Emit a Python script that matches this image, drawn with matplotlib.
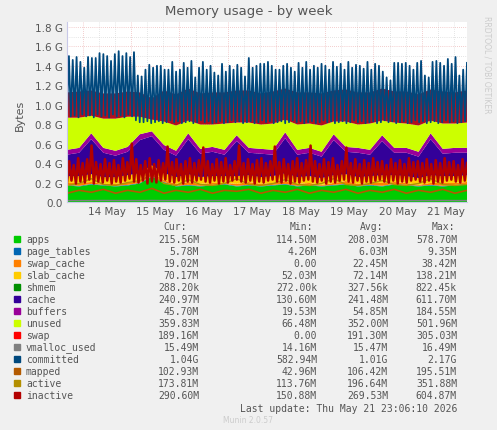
import numpy as np
import matplotlib
matplotlib.use('Agg')
import matplotlib.pyplot as plt

# time in days since 14 May 00:00
t_start, t_end = -0.32, 7.93

# stacked areas (GB), one sample every ~6h
apps = [0.17, 0.16, 0.18, 0.17, 0.16, 0.17, 0.19, 0.26, 0.20, 0.16, 0.17, 0.16, 0.17, 0.18, 0.16, 0.17, 0.16,
        0.17, 0.18, 0.16, 0.17, 0.16, 0.17, 0.18, 0.16, 0.17, 0.16, 0.18, 0.17, 0.16, 0.17, 0.16, 0.17, 0.18]
page_tables = [0.006, 0.006, 0.006, 0.006, 0.006, 0.006, 0.006, 0.006, 0.006, 0.006, 0.006, 0.006, 0.006, 0.006,
               0.006, 0.006, 0.006, 0.006, 0.006, 0.006, 0.006, 0.006, 0.006, 0.006, 0.006, 0.006, 0.006, 0.006,
               0.006, 0.006, 0.006, 0.006, 0.006, 0.006]
swap_cache = [0.02, 0.03, 0.02, 0.01, 0.02, 0.03, 0.02, 0.04, 0.02, 0.02, 0.03, 0.02, 0.02, 0.01, 0.02, 0.03, 0.02,
              0.02, 0.03, 0.02, 0.02, 0.01, 0.02, 0.03, 0.02, 0.02, 0.03, 0.02, 0.02, 0.01, 0.02, 0.03, 0.02, 0.02]
slab_cache = [0.07, 0.07, 0.08, 0.07, 0.07, 0.07, 0.08, 0.07, 0.07, 0.07, 0.08, 0.07, 0.07, 0.07, 0.08, 0.07, 0.07,
              0.07, 0.08, 0.07, 0.07, 0.07, 0.08, 0.07, 0.07, 0.07, 0.08, 0.07, 0.07, 0.07, 0.08, 0.07, 0.07, 0.07]
shmem = [0.0003, 0.0003, 0.0003, 0.0003, 0.0003, 0.0003, 0.0003, 0.0003, 0.0003, 0.0003, 0.0003, 0.0003,
         0.0003, 0.0003, 0.0003, 0.0003, 0.0003, 0.0003, 0.0003, 0.0003, 0.0003, 0.0003, 0.0003, 0.0003,
         0.0003, 0.0003, 0.0003, 0.0003, 0.0003, 0.0003, 0.0003, 0.0003, 0.0003, 0.0003]
cache = [0.22, 0.24, 0.36, 0.25, 0.22, 0.24, 0.34, 0.30, 0.24, 0.22, 0.36, 0.24, 0.25, 0.22, 0.36, 0.23, 0.24,
         0.22, 0.36, 0.23, 0.24, 0.22, 0.36, 0.23, 0.25, 0.22, 0.35, 0.23, 0.24, 0.22, 0.37, 0.23, 0.24, 0.23]
buffers = [0.05, 0.05, 0.06, 0.05, 0.05, 0.05, 0.06, 0.05, 0.05, 0.05, 0.06, 0.05, 0.05, 0.05, 0.06, 0.05, 0.05,
           0.05, 0.06, 0.05, 0.05, 0.05, 0.06, 0.05, 0.05, 0.05, 0.06, 0.05, 0.05, 0.05, 0.06, 0.05, 0.05, 0.05]
unused = [0.33, 0.31, 0.18, 0.30, 0.33, 0.31, 0.18, 0.12, 0.24, 0.26, 0.13, 0.25, 0.23, 0.27, 0.13, 0.26, 0.25,
          0.27, 0.13, 0.26, 0.25, 0.27, 0.13, 0.26, 0.24, 0.27, 0.15, 0.26, 0.25, 0.27, 0.13, 0.26, 0.25, 0.26]
swap = [0.26, 0.27, 0.26, 0.26, 0.26, 0.26, 0.25, 0.22, 0.32, 0.32, 0.33, 0.32, 0.33, 0.32, 0.33, 0.33, 0.32,
        0.33, 0.32, 0.33, 0.32, 0.33, 0.32, 0.33, 0.33, 0.32, 0.33, 0.32, 0.33, 0.32, 0.32, 0.33, 0.32, 0.33]

# line series, ~6h samples
vmalloc_used = [0.015, 0.015, 0.015, 0.016, 0.015, 0.015, 0.015, 0.016, 0.015, 0.015, 0.015, 0.016, 0.015,
                0.015, 0.015, 0.016, 0.015, 0.015, 0.015, 0.016, 0.015, 0.015, 0.015, 0.016, 0.015, 0.015,
                0.015, 0.016, 0.015, 0.015, 0.015, 0.016, 0.015, 0.015]
mapped = [0.09, 0.12, 0.10, 0.13, 0.09, 0.12, 0.10, 0.14, 0.09, 0.12, 0.10, 0.13, 0.09, 0.12, 0.11, 0.13, 0.09,
          0.12, 0.10, 0.13, 0.09, 0.12, 0.10, 0.13, 0.09, 0.12, 0.10, 0.13, 0.09, 0.12, 0.10, 0.13, 0.09, 0.12]
active = [0.17, 0.19, 0.24, 0.18, 0.17, 0.20, 0.22, 0.28, 0.19, 0.17, 0.23, 0.18, 0.17, 0.19, 0.24, 0.18, 0.17,
          0.19, 0.23, 0.18, 0.17, 0.19, 0.24, 0.18, 0.17, 0.19, 0.22, 0.18, 0.17, 0.19, 0.24, 0.18, 0.17, 0.18]

# zig-zag lines: peak / trough per cycle
committed_hi = [1.50, 1.46, 1.49, 1.44, 1.38, 1.49, 1.48, 1.48, 1.53, 1.52, 1.50, 1.45, 1.52, 1.55, 1.50, 1.53,
                1.49, 1.54, 1.30, 1.29, 1.36, 1.41, 1.38, 1.40, 1.40, 1.36, 1.36, 1.44, 1.34, 1.36, 1.43, 1.38,
                1.45, 1.28, 1.38, 1.44, 1.36, 1.40, 1.33, 1.30, 1.42, 1.34, 1.40, 1.36, 1.41, 1.38, 1.29, 1.48,
                1.38, 1.40, 1.42, 1.42, 1.44, 1.40, 1.36, 1.36, 1.40, 1.42, 1.38, 1.34, 1.43, 1.38, 1.44, 1.36,
                1.40, 1.38, 1.42, 1.40, 1.36, 1.44, 1.39, 1.42, 1.36, 1.44, 1.38, 1.41, 1.40, 1.37, 1.44, 1.36,
                1.42, 1.40, 1.34, 1.28, 1.25, 1.43, 1.43, 1.42, 1.43, 1.40, 1.36, 1.43, 1.45, 1.30, 1.28, 1.44,
                1.45, 1.43, 1.40, 1.47, 1.42, 1.49, 1.30, 1.36, 1.43]
committed_lo = [0.90, 0.88, 0.89, 0.87, 0.90, 0.88, 0.89, 0.87, 0.90, 0.88, 0.89, 0.87, 0.90, 0.88, 0.89, 0.87,
                0.90, 0.88, 0.84, 0.82, 0.82, 0.83, 0.81, 0.82, 0.83, 0.81, 0.82, 0.84, 0.82, 0.83, 0.81, 0.82,
                0.83, 0.81, 0.82, 0.84, 0.82, 0.83, 0.81, 0.82, 0.83, 0.81, 0.82, 0.84, 0.82, 0.83, 0.81, 0.82,
                0.83, 0.81, 0.82, 0.84, 0.82, 0.83, 0.81, 0.82, 0.83, 0.81, 0.82, 0.84, 0.82, 0.83, 0.81, 0.82,
                0.83, 0.81, 0.82, 0.84, 0.82, 0.83, 0.81, 0.82, 0.83, 0.81, 0.82, 0.84, 0.82, 0.83, 0.81, 0.82,
                0.83, 0.81, 0.82, 0.84, 0.82, 0.83, 0.81, 0.82, 0.83, 0.81, 0.82, 0.84, 0.82, 0.83, 0.81, 0.82,
                0.83, 0.81, 0.82, 0.84, 0.82, 0.83, 0.81, 0.82, 0.83]
inactive_hi = [0.42, 0.38, 0.45, 0.40, 0.44, 0.58, 0.41, 0.39, 0.44, 0.40, 0.43, 0.38, 0.45, 0.41, 0.60, 0.44,
               0.38, 0.42, 0.45, 0.39, 0.43, 0.40, 0.57, 0.41, 0.44, 0.39, 0.42, 0.45, 0.40, 0.43, 0.56, 0.42,
               0.39, 0.44, 0.41, 0.45, 0.38, 0.42, 0.58, 0.40, 0.44, 0.39, 0.43, 0.45, 0.40, 0.42, 0.57, 0.41,
               0.44, 0.39, 0.42, 0.45, 0.40, 0.43, 0.58, 0.42, 0.39, 0.44, 0.41, 0.45, 0.38, 0.42, 0.56, 0.40,
               0.44, 0.39, 0.43, 0.40, 0.45, 0.41, 0.42, 0.38, 0.44, 0.40, 0.43, 0.39, 0.45, 0.41, 0.42, 0.40,
               0.44, 0.39, 0.43, 0.40, 0.45, 0.41, 0.42, 0.38, 0.44, 0.40]
inactive_lo = [0.20, 0.22, 0.19, 0.21, 0.20, 0.23, 0.19, 0.21, 0.20, 0.22, 0.19, 0.21, 0.20, 0.22, 0.24, 0.21,
               0.20, 0.22, 0.19, 0.21, 0.20, 0.22, 0.23, 0.21, 0.20, 0.22, 0.19, 0.21, 0.20, 0.22, 0.23, 0.21,
               0.20, 0.22, 0.19, 0.21, 0.20, 0.22, 0.23, 0.21, 0.20, 0.22, 0.19, 0.21, 0.20, 0.22, 0.23, 0.21,
               0.20, 0.22, 0.19, 0.21, 0.20, 0.22, 0.23, 0.21, 0.20, 0.22, 0.19, 0.21, 0.20, 0.22, 0.23, 0.21,
               0.20, 0.22, 0.19, 0.21, 0.20, 0.22, 0.23, 0.21, 0.20, 0.22, 0.19, 0.21, 0.20, 0.22, 0.23, 0.21,
               0.20, 0.22, 0.19, 0.21, 0.20, 0.22, 0.23, 0.21, 0.20, 0.22]

names = ['apps', 'page_tables', 'swap_cache', 'slab_cache', 'shmem', 'cache', 'buffers', 'unused', 'swap',
         'vmalloc_used', 'committed', 'mapped', 'active', 'inactive']
colors = ['#00CC00', '#0066B3', '#FF8000', '#FFCC00', '#008F00', '#330099', '#990099', '#CCFF00', '#FF0000',
          '#808080', '#00487D', '#B35A00', '#B38F00', '#B30000']
cur = ['215.56M', '5.78M', '19.02M', '70.17M', '288.20k', '240.97M', '45.70M', '359.83M', '189.16M',
       '15.49M', '1.04G', '102.93M', '173.81M', '290.60M']
mins = ['114.50M', '4.26M', '0.00', '52.03M', '272.00k', '130.60M', '19.53M', '66.48M', '0.00',
        '14.16M', '582.94M', '42.96M', '113.76M', '150.88M']
avgs = ['208.03M', '6.03M', '22.45M', '72.14M', '327.56k', '241.48M', '54.85M', '352.00M', '191.30M',
        '15.47M', '1.01G', '106.42M', '196.64M', '269.53M']
maxs = ['578.70M', '9.35M', '38.42M', '138.21M', '822.45k', '611.70M', '184.55M', '501.96M', '305.03M',
        '16.49M', '2.17G', '195.51M', '351.88M', '604.87M']

W, H = 497, 431
fig = plt.figure(figsize=(W / 100, H / 100), dpi=100, facecolor='#F0F0F0')
ax = fig.add_axes([67 / W, 1 - 203 / H, 400 / W, 180 / H], facecolor='white')

ta = np.linspace(t_start, t_end, len(apps))
stack = [apps, page_tables, swap_cache, slab_cache, shmem, cache, buffers, unused, swap]
ax.stackplot(ta, *stack, colors=colors[:8] + ['#B01020'], linewidth=0)

tl = np.linspace(t_start, t_end, len(vmalloc_used))
ax.plot(tl, vmalloc_used, color=colors[9], lw=1)
tc = np.linspace(t_start, t_end, 2 * len(committed_hi))
comm = np.ravel(np.column_stack([committed_lo, committed_hi]))
ax.plot(tc, comm, color=colors[10], lw=1.3)
ax.plot(tl, mapped, color=colors[11], lw=1.2)
ax.plot(tl, active, color=colors[12], lw=1)
ti = np.linspace(t_start, t_end, 2 * len(inactive_hi))
inac = np.ravel(np.column_stack([inactive_lo, inactive_hi]))
ax.plot(ti, inac, color=colors[13], lw=1.8)

ax.set_xlim(t_start, t_end)
ax.set_ylim(0, 1.85)
yt = np.arange(0, 1.81, 0.2)
ax.set_yticks(yt)
ax.set_yticklabels(['0.0'] + ['%.1f G' % v for v in yt[1:]], fontsize=7.5, color='#555555')
ax.set_yticks(np.arange(0.1, 1.81, 0.2), minor=True)
ax.set_xticks(np.arange(0, 8))
ax.set_xticklabels([])
ax.set_xticks(np.arange(0.5, 7.6, 1), minor=True)
ax.set_xticklabels(['%d May' % d for d in range(14, 22)], minor=True, fontsize=7.5, color='#555555')
ax.tick_params(which='both', length=0, pad=3)
for d in np.arange(-1 / 3, 7.93, 1 / 3):
    if abs(d - round(d)) > 0.01:
        ax.axvline(d, color='#cccccc', lw=0.5, ls=(0, (1, 2)), zorder=0.5)
for d in range(0, 8):
    ax.axvline(d, color='#e8a0a0', lw=0.5, ls=(0, (1, 2)), zorder=0.5)
for v in np.arange(0.1, 1.81, 0.2):
    ax.axhline(v, color='#cccccc', lw=0.5, ls=(0, (1, 2)), zorder=0.5)
for v in yt[1:]:
    ax.axhline(v, color='#e8a0a0', lw=0.5, ls=(0, (1, 2)), zorder=0.5)
for s in ['top', 'right']:
    ax.spines[s].set_visible(False)
for s in ['left', 'bottom']:
    ax.spines[s].set_color('#c8c8e8')

fig.text(0.5, 1 - 12 / H, 'Memory usage - by week', ha='center', va='center', fontsize=9.5, color='#555555')
fig.text(20 / W, 1 - 115 / H, 'Bytes', rotation=90, ha='center', va='center', fontsize=8, color='#555555')
fig.text(487 / W, 1 - 65 / H, 'RRDTOOL / TOBI OETIKER', rotation=270, ha='center', va='center',
         fontsize=5.5, color='#cccccc')

mono = 'DejaVu Sans Mono'
tk = dict(fontsize=7, family=mono, color='#555555', va='center')
y0 = 227
for x, lab in [(187, 'Cur:'), (313, 'Min:'), (383, 'Avg:'), (455, 'Max:')]:
    fig.text(x / W, 1 - y0 / H, lab, ha='right', **tk)
for i, n in enumerate(names):
    y = 240 + 12 * i
    fig.patches.append(plt.Rectangle((14 / W, 1 - (y + 3) / H), 6 / W, 6 / H, color=colors[i],
                                     transform=fig.transFigure, figure=fig))
    fig.text(26 / W, 1 - y / H, n, ha='left', **tk)
    fig.text(199 / W, 1 - y / H, cur[i], ha='right', **tk)
    fig.text(317 / W, 1 - y / H, mins[i], ha='right', **tk)
    fig.text(388 / W, 1 - y / H, avgs[i], ha='right', **tk)
    fig.text(457 / W, 1 - y / H, maxs[i], ha='right', **tk)
fig.text(457 / W, 1 - 409 / H, 'Last update: Thu May 21 23:06:10 2026', ha='right', **tk)
fig.text(248 / W, 1 - 421 / H, 'Munin 2.0.57', ha='center', va='center', fontsize=5.5, color='#cccccc')

fig.savefig('out.png', dpi=100, facecolor=fig.get_facecolor())
